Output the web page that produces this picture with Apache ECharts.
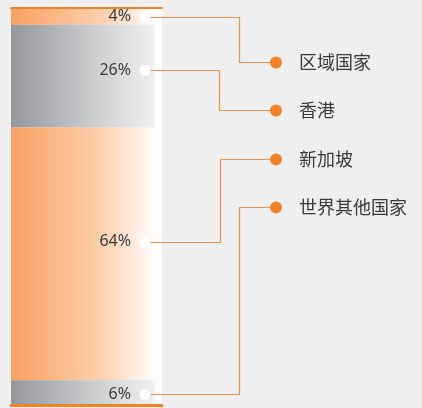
<!DOCTYPE html>
<html>
<head>
<meta charset="utf-8">
<script src="https://cdn.jsdelivr.net/npm/echarts@6/dist/echarts.min.js"></script>
<style>
  html, body { margin: 0; padding: 0; background: #efefef; }
  #chart { width: 422px; height: 408px; }
</style>
</head>
<body>
<div id="chart"></div>
<script>
// Share of holdings by region (percent), stacked top to bottom
const regions = ['区域国家', '香港', '新加坡', '世界其他国家'];
const shares = [4, 26, 64, 6];
const tones = ['orange', 'grey', 'orange', 'grey'];

// ---- styling ----
const ORANGE = '#f28228';
const LINE = '#f29248';
const gridBox = { left: 11, top: 9, width: 151, bottom: 4 };
const labelLift = [0, 6, 12, -2];          // nudge of each value label above the segment centre
const elbowX = [239.5, 219.5, 220.5, 239.5]; // x of the vertical run of each leader line
const legendDotX = 276, legendTextX = 299;
const legendTop = 62, legendStep = 48.4;

function fill(tone) {
  const stops = tone === 'orange'
    ? [{ offset: 0, color: '#f8a062' }, { offset: 0.6, color: '#fdd0ae' }, { offset: 0.965, color: '#ffffff' }, { offset: 1, color: '#ffffff' }]
    : [{ offset: 0, color: '#96979b' }, { offset: 0.6, color: '#d1d2d4' }, { offset: 0.93, color: '#eeeeef' }, { offset: 0.97, color: '#ffffff' }, { offset: 1, color: '#ffffff' }];
  return new echarts.graphic.LinearGradient(0, 0, 1, 0, stops);
}

const chart = echarts.init(document.getElementById('chart'), null, { renderer: 'canvas' });

const series = regions.map((name, i) => ({
  name,
  type: 'bar',
  stack: 'total',
  data: [shares[i]],
  barWidth: '100%',
  itemStyle: { color: fill(tones[i]) },
  label: {
    show: true,
    position: 'insideRight',
    distance: 31,
    offset: [0, -labelLift[i]],
    formatter: '{c}%',
    color: '#3c3c3c',
    fontSize: 16,
    fontFamily: 'Noto Sans'
  },
  silent: true
}));

chart.setOption({
  backgroundColor: '#efefef',
  animation: false,
  grid: { left: gridBox.left, top: gridBox.top, width: gridBox.width, bottom: gridBox.bottom },
  xAxis: [
    {
      type: 'category', data: [''], position: 'bottom', offset: 1.5, z: 5,
      axisLine: { show: true, onZero: false, lineStyle: { color: ORANGE, width: 3 } },
      axisTick: { show: false }, axisLabel: { show: false }
    },
    {
      type: 'category', data: [''], position: 'top', offset: 1, z: 5,
      axisLine: { show: true, onZero: false, lineStyle: { color: ORANGE, width: 2 } },
      axisTick: { show: false }, axisLabel: { show: false }
    }
  ],
  yAxis: {
    type: 'value', min: 0, max: 100, inverse: true, show: false
  },
  series
});

// Leader lines, white markers and the legend on the right
const graphics = [];
const barRight = gridBox.left + gridBox.width;
let cum = 0;
regions.forEach((name, i) => {
  const mid = cum + shares[i] / 2;
  cum += shares[i];
  const p = chart.convertToPixel({ xAxisIndex: 0, yAxisIndex: 0 }, [0, mid]);
  const y = Math.round(p[1] - labelLift[i]) + 0.5;
  const dotX = barRight - 17;
  const legY = Math.round(legendTop + i * legendStep) + 0.5;
  graphics.push({
    type: 'polyline',
    shape: { points: [[dotX, y], [elbowX[i], y], [elbowX[i], legY], [legendDotX, legY]] },
    style: { stroke: LINE, lineWidth: 1.2, fill: null },
    z: 10
  });
  graphics.push({
    type: 'circle', shape: { cx: dotX, cy: y, r: 5.5 },
    style: { fill: '#ffffff' }, z: 11
  });
  graphics.push({
    type: 'circle', shape: { cx: legendDotX, cy: legY, r: 6 },
    style: { fill: ORANGE }, z: 11
  });
  graphics.push({
    type: 'text', x: legendTextX, y: legY,
    style: {
      text: name, fill: '#3a3a3a', fontSize: 18,
      fontFamily: '"Noto Sans CJK SC", sans-serif', verticalAlign: 'middle', align: 'left'
    },
    z: 11
  });
});
chart.setOption({ graphic: graphics });
</script>
</body>
</html>
